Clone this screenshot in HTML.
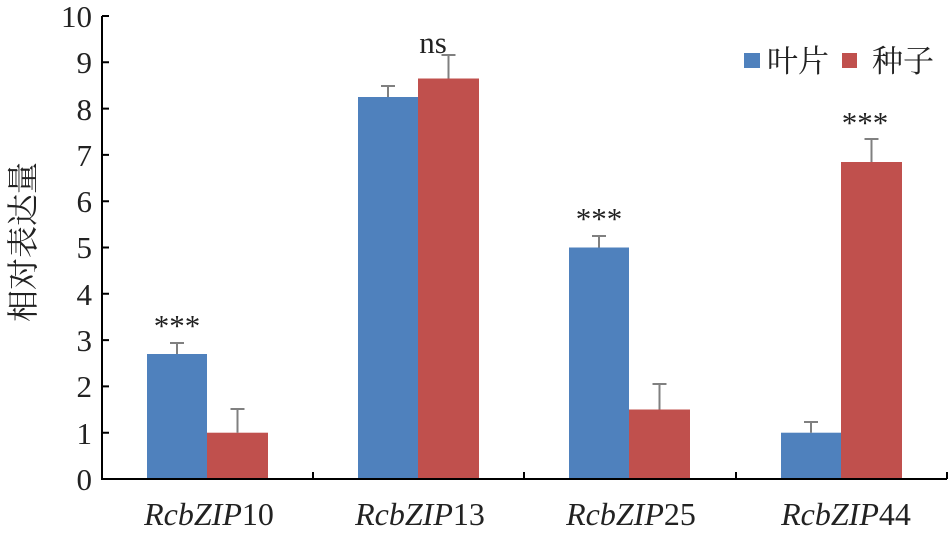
<!DOCTYPE html>
<html><head><meta charset="utf-8"><style>body{margin:0;background:#fff}</style></head><body>
<svg width="949" height="535" xmlns="http://www.w3.org/2000/svg" font-family="'Liberation Serif','Noto Serif CJK SC',serif">
<g fill="#4F81BD">
<rect x="147" y="354" width="60" height="125"/>
<rect x="358" y="97" width="60" height="382"/>
<rect x="569" y="247.5" width="60" height="231.5"/>
<rect x="781" y="432.7" width="60" height="46.3"/>
</g>
<g fill="#C0504D">
<rect x="207" y="432.7" width="61" height="46.3"/>
<rect x="418" y="78.5" width="61" height="400.5"/>
<rect x="629" y="409.5" width="61" height="69.5"/>
<rect x="841" y="162" width="61" height="317"/>
</g>
<g stroke="#808080" stroke-width="2" fill="none">
<path d="M177 354V343M170 343H184"/>
<path d="M237.5 432.7V409M230.5 409H244.5"/>
<path d="M388 97V86M381 86H395"/>
<path d="M448.5 78.5V55M441.5 55H455.5"/>
<path d="M599 247.5V236M592 236H606"/>
<path d="M659.5 409.5V384M652.5 384H666.5"/>
<path d="M811 432.7V422M804 422H818"/>
<path d="M871.5 162V139M864.5 139H878.5"/>
</g>
<g stroke="#000" stroke-width="2" fill="none">
<path d="M102 16V479H947"/>
<path d="M102 16h7M102 62.3h7M102 108.6h7M102 154.9h7M102 201.2h7M102 247.5h7M102 293.8h7M102 340.1h7M102 386.4h7M102 432.7h7"/>
<path d="M313 479v-7M524 479v-7M736 479v-7M947 479v-7"/>
</g>
<g font-size="31" text-anchor="end" fill="#222">
<text x="92" y="490">0</text><text x="92" y="444">1</text><text x="92" y="397">2</text><text x="92" y="351">3</text><text x="92" y="305">4</text><text x="92" y="258">5</text><text x="92" y="212">6</text><text x="92" y="166">7</text><text x="92" y="120">8</text><text x="92" y="73">9</text><text x="92" y="27">10</text>
</g>
<text transform="translate(34,242) rotate(-90)" font-size="32" text-anchor="middle" fill="#222">相对表达量</text>
<g font-size="31" text-anchor="middle" fill="#222">
<text x="177" y="336">***</text>
<text x="599" y="229">***</text>
<text x="865" y="133">***</text>
<text x="433" y="53">ns</text>
</g>
<g font-size="32" text-anchor="middle" fill="#222" font-style="italic">
<text x="209" y="525"><tspan>RcbZIP</tspan><tspan font-style="normal">10</tspan></text>
<text x="420" y="525"><tspan>RcbZIP</tspan><tspan font-style="normal">13</tspan></text>
<text x="631" y="525"><tspan>RcbZIP</tspan><tspan font-style="normal">25</tspan></text>
<text x="846" y="525"><tspan>RcbZIP</tspan><tspan font-style="normal">44</tspan></text>
</g>
<rect x="744" y="53" width="16" height="15" fill="#4F81BD"/>
<rect x="842" y="53" width="15" height="15" fill="#C0504D"/>
<g font-size="31" fill="#222">
<text x="767" y="72">叶片</text>
<text x="872" y="72">种子</text>
</g>
</svg>
</body></html>
